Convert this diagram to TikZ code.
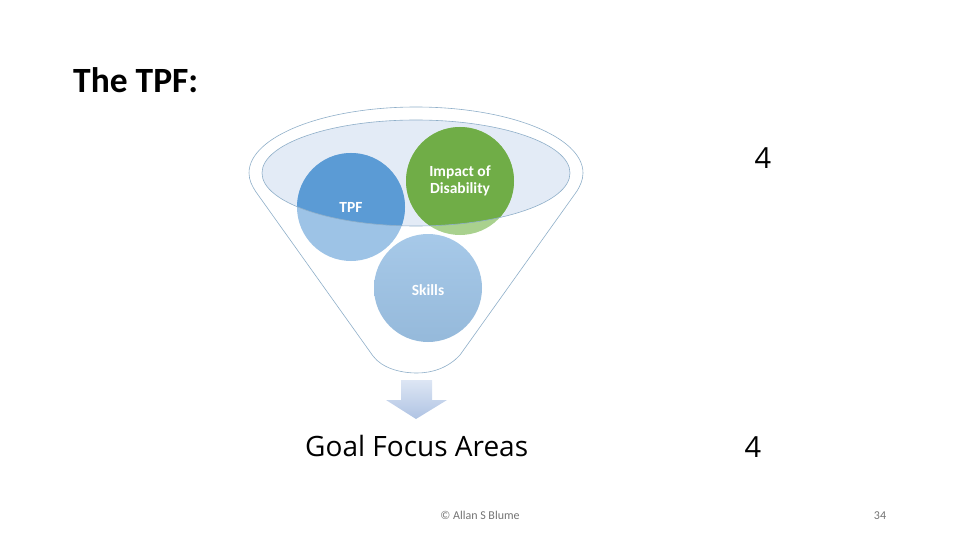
\documentclass[tikz,border=0pt]{standalone}
\usepackage{fontspec}
\setmainfont{Carlito}
\newfontfamily\osans{Open Sans}
\usetikzlibrary{shadings}
\definecolor{rimline}{HTML}{8FAFC9}
\definecolor{rimfill}{HTML}{E3EBF6}
\definecolor{bluedark}{HTML}{5B9BD5}
\definecolor{bluelight}{HTML}{9DC3E6}
\definecolor{greendark}{HTML}{70AD47}
\definecolor{greenlight}{HTML}{A9D18E}
\definecolor{arrowtop}{HTML}{DDE6F4}
\definecolor{arrowbot}{HTML}{AFC3E3}
\tikzset{
  rim/.style={draw=rimline, line width=0.6pt},
  circlabel/.style={text=white, font=\fontsize{15.5}{17}\selectfont\bfseries, align=center},
  foot/.style={text=black!55, font=\fontsize{12}{14}\selectfont}
}
\begin{document}
\begin{tikzpicture}[x=1pt,y=-1pt]
\useasboundingbox (0,0) rectangle (960,540);
% outer funnel
\draw[rim, fill=white] (249,173) arc[start angle=180, end angle=360, x radius=167, y radius=66]
  .. controls (583,180) and (580,186) .. (577,191)
  -- (460,355)
  .. controls (448,368) and (432,373) .. (417,373)
  .. controls (400,373) and (382,368) .. (373,356)
  -- (256,192)
  .. controls (252,186) and (249,180) .. (249,173) -- cycle;
% inner ellipse fill
\fill[rimfill] (416,173) ellipse[x radius=154, y radius=53];
% circles, light (outside ellipse)
\fill[bluelight] (351,207) circle[radius=54];
\fill[greenlight] (460,181) circle[radius=54];
\shade[top color=bluelight!90!white, bottom color=bluelight!95!black] (428,288) circle[radius=54];
% circles, dark (inside ellipse)
\begin{scope}
  \clip (416,173) ellipse[x radius=154, y radius=53];
  \fill[bluedark] (351,207) circle[radius=54];
  \fill[greendark] (460,181) circle[radius=54];
\end{scope}
\draw[rim] (416,173) ellipse[x radius=154, y radius=53];
% labels
\node[circlabel] (tpf) at (351,207) {TPF};
\node[circlabel] (impact) at (460,181) {Impact of\\Disability};
\node[circlabel] (skills) at (428,290) {Skills};
% arrow
\shade[top color=arrowtop, bottom color=arrowbot]
  (401,380) -- (432,380) -- (432,400) -- (447,400) -- (416,419) -- (386,400) -- (401,400) -- cycle;
% texts
\node[anchor=base west, inner sep=0pt, font=\fontsize{35.5}{40}\selectfont\bfseries] (title) at (73,93) {The TPF:};
\node[anchor=base west, inner sep=0pt, font=\osans\fontsize{28}{32}\selectfont] (goal) at (305,456) {Goal Focus Areas};
\node[anchor=base, inner sep=0pt, font=\osans\fontsize{29}{34}\selectfont] (four1) at (763,169) {4};
\node[anchor=base, inner sep=0pt, font=\osans\fontsize{29}{34}\selectfont] (four2) at (753,457) {4};
\node[foot, anchor=base, inner sep=0pt] (copy) at (480,519) {© Allan S Blume};
\node[foot, anchor=base, inner sep=0pt] (page) at (880,519) {34};
\end{tikzpicture}
\end{document}
